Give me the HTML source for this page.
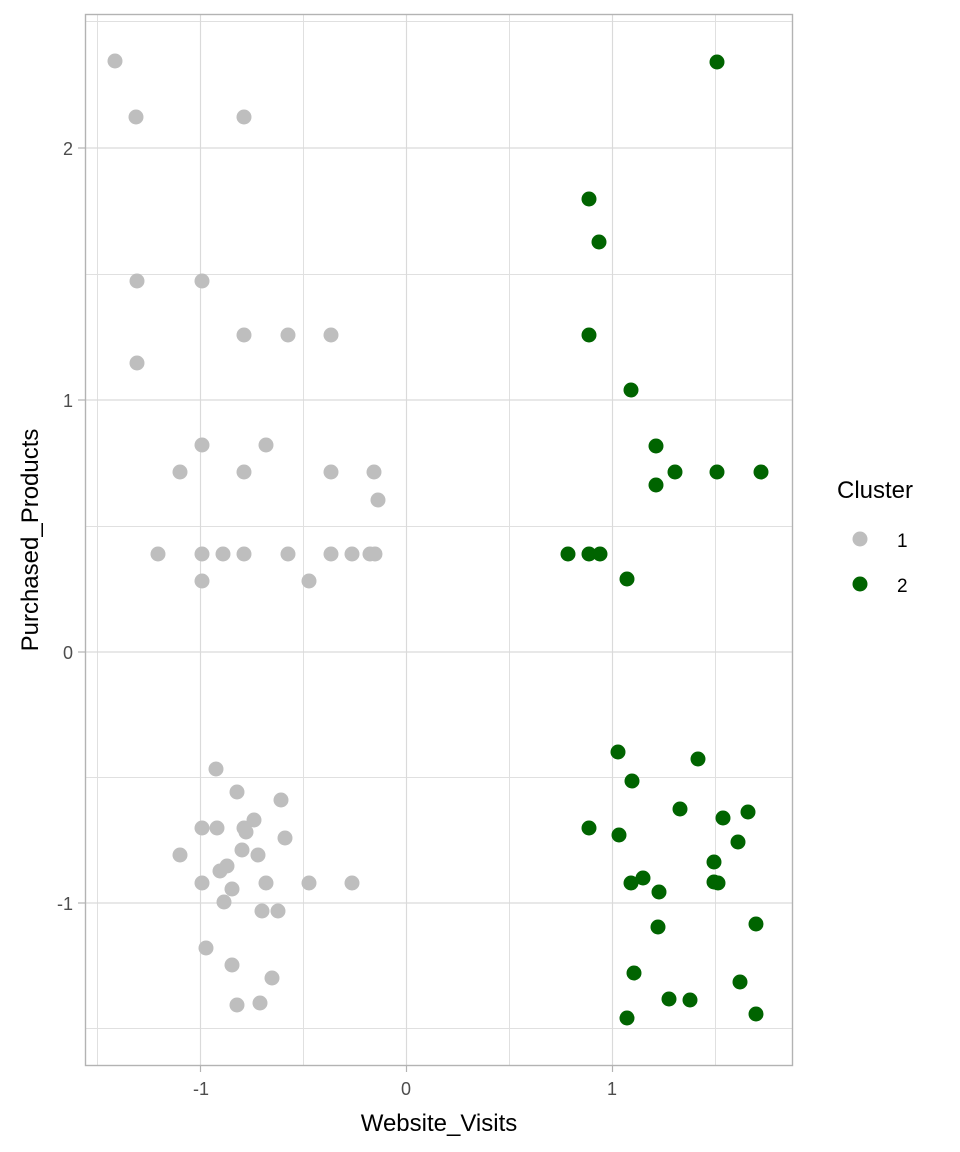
<!DOCTYPE html>
<html><head><meta charset="utf-8"><style>body{margin:0;background:#fff}svg{display:block}</style></head><body>
<svg width="960" height="1152" xmlns="http://www.w3.org/2000/svg" font-family="Liberation Sans, sans-serif">
<rect width="960" height="1152" fill="#fff"/>
<g stroke="#e0e0e0" stroke-width="1">
<line x1="97.5" y1="14" x2="97.5" y2="1065"/><line x1="303.5" y1="14" x2="303.5" y2="1065"/><line x1="509.5" y1="14" x2="509.5" y2="1065"/><line x1="715.5" y1="14" x2="715.5" y2="1065"/>
<line x1="85" y1="21.5" x2="793" y2="21.5"/><line x1="85" y1="274.5" x2="793" y2="274.5"/><line x1="85" y1="526.5" x2="793" y2="526.5"/><line x1="85" y1="777.5" x2="793" y2="777.5"/><line x1="85" y1="1028.5" x2="793" y2="1028.5"/>
</g>
<g stroke="#dadada" stroke-width="1.2">
<line x1="200.5" y1="14" x2="200.5" y2="1065"/><line x1="406.5" y1="14" x2="406.5" y2="1065"/><line x1="612.5" y1="14" x2="612.5" y2="1065"/>
<line x1="85" y1="148" x2="793" y2="148"/><line x1="85" y1="400" x2="793" y2="400"/><line x1="85" y1="652" x2="793" y2="652"/><line x1="85" y1="903" x2="793" y2="903"/>
</g>
<g fill="#bebebe">
<circle cx="115" cy="61" r="7.5"/><circle cx="136" cy="117" r="7.5"/><circle cx="244" cy="117" r="7.5"/><circle cx="137" cy="281" r="7.5"/><circle cx="202" cy="281" r="7.5"/><circle cx="137" cy="363" r="7.5"/><circle cx="244" cy="335" r="7.5"/><circle cx="288" cy="335" r="7.5"/><circle cx="331" cy="335" r="7.5"/><circle cx="202" cy="445" r="7.5"/><circle cx="266" cy="445" r="7.5"/><circle cx="180" cy="472" r="7.5"/><circle cx="244" cy="472" r="7.5"/><circle cx="331" cy="472" r="7.5"/><circle cx="374" cy="472" r="7.5"/><circle cx="378" cy="500" r="7.5"/><circle cx="158" cy="554" r="7.5"/><circle cx="202" cy="554" r="7.5"/><circle cx="223" cy="554" r="7.5"/><circle cx="244" cy="554" r="7.5"/><circle cx="288" cy="554" r="7.5"/><circle cx="331" cy="554" r="7.5"/><circle cx="352" cy="554" r="7.5"/><circle cx="370" cy="554" r="7.5"/><circle cx="375" cy="554" r="7.5"/><circle cx="202" cy="581" r="7.5"/><circle cx="309" cy="581" r="7.5"/>
<circle cx="216" cy="769" r="7.5"/><circle cx="237" cy="792" r="7.5"/><circle cx="281" cy="800" r="7.5"/><circle cx="254" cy="820" r="7.5"/><circle cx="202" cy="828" r="7.5"/><circle cx="217" cy="828" r="7.5"/><circle cx="244" cy="828" r="7.5"/><circle cx="246" cy="832" r="7.5"/><circle cx="285" cy="838" r="7.5"/><circle cx="180" cy="855" r="7.5"/><circle cx="242" cy="850" r="7.5"/><circle cx="258" cy="855" r="7.5"/><circle cx="227" cy="866" r="7.5"/><circle cx="220" cy="871" r="7.5"/><circle cx="202" cy="883" r="7.5"/><circle cx="266" cy="883" r="7.5"/><circle cx="309" cy="883" r="7.5"/><circle cx="352" cy="883" r="7.5"/><circle cx="232" cy="889" r="7.5"/><circle cx="224" cy="902" r="7.5"/><circle cx="262" cy="911" r="7.5"/><circle cx="278" cy="911" r="7.5"/><circle cx="206" cy="948" r="7.5"/><circle cx="232" cy="965" r="7.5"/><circle cx="272" cy="978" r="7.5"/><circle cx="237" cy="1005" r="7.5"/><circle cx="260" cy="1003" r="7.5"/>
</g>
<g fill="#006400">
<circle cx="717" cy="62" r="7.5"/><circle cx="589" cy="199" r="7.5"/><circle cx="599" cy="242" r="7.5"/><circle cx="589" cy="335" r="7.5"/><circle cx="631" cy="390" r="7.5"/><circle cx="656" cy="446" r="7.5"/><circle cx="675" cy="472" r="7.5"/><circle cx="717" cy="472" r="7.5"/><circle cx="761" cy="472" r="7.5"/><circle cx="656" cy="485" r="7.5"/><circle cx="568" cy="554" r="7.5"/><circle cx="589" cy="554" r="7.5"/><circle cx="600" cy="554" r="7.5"/><circle cx="627" cy="579" r="7.5"/>
<circle cx="618" cy="752" r="7.5"/><circle cx="698" cy="759" r="7.5"/><circle cx="632" cy="781" r="7.5"/><circle cx="680" cy="809" r="7.5"/><circle cx="748" cy="812" r="7.5"/><circle cx="723" cy="818" r="7.5"/><circle cx="589" cy="828" r="7.5"/><circle cx="619" cy="835" r="7.5"/><circle cx="738" cy="842" r="7.5"/><circle cx="714" cy="862" r="7.5"/><circle cx="643" cy="878" r="7.5"/><circle cx="631" cy="883" r="7.5"/><circle cx="714" cy="882" r="7.5"/><circle cx="718" cy="883" r="7.5"/><circle cx="659" cy="892" r="7.5"/><circle cx="756" cy="924" r="7.5"/><circle cx="658" cy="927" r="7.5"/><circle cx="634" cy="973" r="7.5"/><circle cx="740" cy="982" r="7.5"/><circle cx="669" cy="999" r="7.5"/><circle cx="690" cy="1000" r="7.5"/><circle cx="627" cy="1018" r="7.5"/><circle cx="756" cy="1014" r="7.5"/>
</g>
<rect x="85.5" y="14.5" width="707" height="1051" fill="none" stroke="#b3b3b3" stroke-width="1.4"/>
<g stroke="#b3b3b3" stroke-width="1.2">
<line x1="200.5" y1="1066" x2="200.5" y2="1072"/><line x1="406.5" y1="1066" x2="406.5" y2="1072"/><line x1="612.5" y1="1066" x2="612.5" y2="1072"/>
<line x1="78" y1="148" x2="85" y2="148"/><line x1="78" y1="400" x2="85" y2="400"/><line x1="78" y1="652" x2="85" y2="652"/><line x1="78" y1="903" x2="85" y2="903"/>
</g>
<g fill="#4d4d4d" font-size="18">
<text x="201" y="1095" text-anchor="middle">-1</text><text x="406" y="1095" text-anchor="middle">0</text><text x="612" y="1095" text-anchor="middle">1</text>
<text x="73" y="155" text-anchor="end">2</text><text x="73" y="407" text-anchor="end">1</text><text x="73" y="659" text-anchor="end">0</text><text x="73" y="910" text-anchor="end">-1</text>
</g>
<text x="439" y="1131" text-anchor="middle" font-size="24" fill="#000">Website_Visits</text>
<text transform="translate(38,540) rotate(-90)" text-anchor="middle" font-size="24" fill="#000">Purchased_Products</text>
<text x="837" y="498" font-size="24" fill="#000">Cluster</text>
<circle cx="860" cy="539" r="7.5" fill="#bebebe"/><text x="897" y="547" font-size="19" fill="#000">1</text>
<circle cx="860" cy="584" r="7.5" fill="#006400"/><text x="897" y="592" font-size="19" fill="#000">2</text>
</svg>
</body></html>
